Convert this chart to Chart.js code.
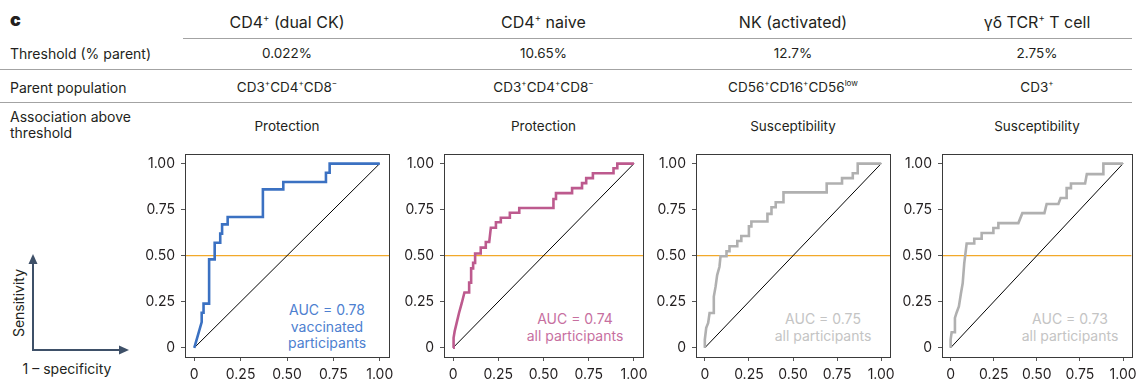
<!DOCTYPE html>
<html>
<head>
<meta charset="utf-8">
<script src="https://cdn.jsdelivr.net/npm/chart.js@4.4.1/dist/chart.umd.min.js"></script>
<style>
  body { margin: 0; width: 1142px; height: 381px; overflow: hidden; background: #fff;
         font-family: Inter, "Noto Sans", sans-serif; color: #231f20; position: relative; }
  .t { position: absolute; white-space: nowrap; }
  .c { transform: translate(-50%, -50%); text-align: center; }
  .l { transform: translateY(-50%); }
  sup { font-size: 0.6em; line-height: 0; position: relative; top: -0.1em; }
  .rule { position: absolute; height: 1px; background: #a3a3a3; }
  canvas { position: absolute; }
</style>
</head>
<body>

<div class="t l" style="left:10px; top:19px; font-size:18px; font-weight:900;">c</div>

<svg style="position:absolute; left:0; top:240px;" width="140" height="141">
  <g stroke="#3e5068" stroke-width="2" fill="#3e5068">
    <line x1="33" y1="22" x2="33" y2="111" />
    <line x1="32" y1="110" x2="120" y2="110" />
    <polygon points="33,14 28.5,24 37.5,24" stroke="none" />
    <polygon points="129,110 119,105.5 119,114.5" stroke="none" />
  </g>
</svg>
<div class="t c" style="left:18px; top:303px; font-size:14px; transform:translate(-50%,-50%) rotate(-90deg);">Sensitivity</div>
<div class="t c" style="left:67px; top:368px; font-size:14px;">1 – specificity</div>

<script>
// table text
const colTitles = ['CD4<sup>+</sup> (dual CK)', 'CD4<sup>+</sup> naive', 'NK (activated)', 'γδ TCR<sup>+</sup> T cell'];
const thresholds = ['0.022%', '10.65%', '12.7%', '2.75%'];
const parents = ['CD3<sup>+</sup>CD4<sup>+</sup>CD8<sup>−</sup>', 'CD3<sup>+</sup>CD4<sup>+</sup>CD8<sup>−</sup>',
                 'CD56<sup>+</sup>CD16<sup>+</sup>CD56<sup>low</sup>', 'CD3<sup>+</sup>'];
const associations = ['Protection', 'Protection', 'Susceptibility', 'Susceptibility'];
const rowLabels = ['Threshold (% parent)', 'Parent population', 'Association above<br>threshold'];

// ROC curves (1 - specificity, sensitivity)
const dualX = [0, 0.04, 0.04, 0.05, 0.05, 0.08, 0.08, 0.11, 0.11, 0.14, 0.14, 0.15, 0.15, 0.18, 0.18, 0.37, 0.37, 0.48, 0.48, 0.71, 0.71, 0.73, 0.73, 1];
const dualY = [0, 0.14, 0.19, 0.19, 0.24, 0.24, 0.48, 0.48, 0.57, 0.57, 0.62, 0.62, 0.67, 0.67, 0.71, 0.71, 0.86, 0.86, 0.90, 0.90, 0.95, 0.95, 1, 1];

const naiveX = [0, 0.003, 0.009, 0.02, 0.033, 0.048, 0.063, 0.089, 0.089, 0.1, 0.1, 0.111, 0.111, 0.122, 0.122, 0.153, 0.153, 0.181, 0.181, 0.2, 0.209, 0.237, 0.237, 0.264, 0.264, 0.314, 0.314, 0.366, 0.366, 0.555, 0.555, 0.569, 0.569, 0.658, 0.658, 0.713, 0.713, 0.736, 0.736, 0.773, 0.773, 0.887, 0.887, 0.908, 0.908, 1];
const naiveY = [0, 0.054, 0.09, 0.135, 0.189, 0.242, 0.3, 0.3, 0.354, 0.354, 0.431, 0.431, 0.461, 0.461, 0.512, 0.512, 0.544, 0.544, 0.574, 0.574, 0.652, 0.652, 0.682, 0.682, 0.706, 0.706, 0.733, 0.733, 0.759, 0.759, 0.808, 0.808, 0.84, 0.84, 0.867, 0.867, 0.894, 0.894, 0.921, 0.921, 0.948, 0.948, 0.975, 0.975, 1, 1];

const nkX = [0, 0, 0.008, 0.019, 0.027, 0.051, 0.051, 0.061, 0.07, 0.083, 0.089, 0.123, 0.123, 0.14, 0.14, 0.184, 0.184, 0.207, 0.207, 0.25, 0.25, 0.264, 0.264, 0.355, 0.355, 0.378, 0.378, 0.402, 0.402, 0.446, 0.446, 0.691, 0.691, 0.778, 0.778, 0.839, 0.839, 0.867, 0.867, 1];
const nkY = [0, 0.045, 0.108, 0.135, 0.189, 0.189, 0.278, 0.332, 0.395, 0.44, 0.497, 0.497, 0.524, 0.524, 0.551, 0.551, 0.58, 0.58, 0.607, 0.607, 0.659, 0.659, 0.686, 0.686, 0.727, 0.727, 0.763, 0.763, 0.79, 0.79, 0.844, 0.844, 0.892, 0.892, 0.921, 0.921, 0.948, 0.948, 1, 1];

const gdX = [0, 0, 0.006, 0.025, 0.025, 0.035, 0.048, 0.06, 0.07, 0.079, 0.093, 0.137, 0.137, 0.18, 0.18, 0.248, 0.248, 0.277, 0.277, 0.393, 0.416, 0.544, 0.557, 0.625, 0.638, 0.673, 0.673, 0.698, 0.698, 0.78, 0.79, 0.886, 0.886, 1];
const gdY = [0, 0.045, 0.084, 0.084, 0.162, 0.192, 0.224, 0.296, 0.35, 0.458, 0.566, 0.566, 0.592, 0.592, 0.623, 0.623, 0.65, 0.65, 0.677, 0.677, 0.731, 0.731, 0.781, 0.781, 0.813, 0.813, 0.867, 0.867, 0.892, 0.892, 0.943, 0.943, 1, 1];

const aucValues = ['0.78', '0.74', '0.75', '0.73'];
const aucGroups = ['vaccinated<br>participants', 'all participants', 'all participants', 'all participants'];

const tickValues = [0, 0.25, 0.5, 0.75, 1];
const tickLabels = ['0', '0.25', '0.50', '0.75', '1.00'];
const thresholdLevel = 0.5;

// layout (pixels)
const frames = [
  { left: 185, right: 389 },
  { left: 444, right: 643 },
  { left: 696, right: 890 },
  { left: 942, right: 1132 }
];
const frameTop = 153, frameBottom = 357;
const aucCenters = [327, 575, 823, 1070];
const curveColors = ['#3b71c2', '#bd5a8e', '#b0b0b0', '#b0b0b0'];
const aucColors = ['#4d80d0', '#c76f9f', '#c4c4c4', '#c4c4c4'];

function addText(html, x, y, cls, size) {
  const d = document.createElement('div');
  d.className = 't ' + cls;
  d.style.left = x + 'px';
  d.style.top = y + 'px';
  d.style.fontSize = size + 'px';
  d.innerHTML = html;
  document.body.appendChild(d);
  return d;
}

function addRule(x1, x2, y) {
  const r = document.createElement('div');
  r.className = 'rule';
  r.style.left = x1 + 'px';
  r.style.width = (x2 - x1) + 'px';
  r.style.top = y + 'px';
  document.body.appendChild(r);
}

addRule(183, 1132, 38);
addRule(0, 1132, 69);
addRule(0, 1132, 102);

addText(rowLabels[0], 10, 53, 'l', 14);
addText(rowLabels[1], 10, 87, 'l', 14);
addText(rowLabels[2], 10, 125, 'l', 14).style.lineHeight = '16px';

frames.forEach((f, i) => {
  const cx = (f.left + f.right) / 2;
  addText(colTitles[i], cx, 22, 'c', 16);
  addText(thresholds[i], cx, 53, 'c', 13.5);
  addText(parents[i], cx, 87, 'c', 13.5);
  addText(associations[i], cx, 126, 'c', 13.5);
  const a = addText('AUC = ' + aucValues[i] + '<br>' + aucGroups[i], aucCenters[i], 327, 'c', 14);
  a.style.color = aucColors[i];
  a.style.lineHeight = '16.5px';
});

/*******************************************************************************/
// Graficos

const frameBorder = {
  id: 'frameBorder',
  afterDraw(chart) {
    const a = chart.chartArea;
    const ctx = chart.ctx;
    ctx.save();
    ctx.strokeStyle = '#3a3a3a';
    ctx.lineWidth = 1;
    ctx.strokeRect(Math.round(a.left) + 0.5, Math.round(a.top) + 0.5,
                   Math.round(a.right - a.left), Math.round(a.bottom - a.top));
    ctx.restore();
  }
};

function crearPanel(i, xs, ys) {
  const f = frames[i];
  const padRight = i === 3 ? 10 : 20;
  const canvas = document.createElement('canvas');
  canvas.width = (f.right - f.left) + 50 + padRight;
  canvas.height = 381 - 140;
  canvas.style.left = (f.left - 50) + 'px';
  canvas.style.top = '140px';
  document.body.appendChild(canvas);

  const axisStyle = {
    min: -0.05,
    max: 1.05,
    border: { display: false },
    grid: { drawOnChartArea: false, drawTicks: true, tickLength: 4, color: '#555' },
    ticks: {
      font: { family: 'Inter', size: 14 },
      color: '#231f20',
      callback: (v) => tickLabels[tickValues.indexOf(v)]
    },
    afterBuildTicks: (scale) => { scale.ticks = tickValues.map(v => ({ value: v })); }
  };

  new Chart(canvas, {
    type: 'scatter',
    data: {
      datasets: [
        {
          data: xs.map((x, k) => ({ x: x, y: ys[k] })),
          showLine: true, borderColor: curveColors[i], borderWidth: 2.6,
          pointRadius: 0, order: 0
        },
        {
          data: [{ x: 0, y: 0 }, { x: 1, y: 1 }],
          showLine: true, borderColor: '#000', borderWidth: 1, pointRadius: 0, order: 1
        },
        {
          data: [{ x: -0.05, y: thresholdLevel }, { x: 1.05, y: thresholdLevel }],
          showLine: true, borderColor: '#f2a92a', borderWidth: 1.3, pointRadius: 0, order: 2
        }
      ]
    },
    options: {
      responsive: false,
      animation: false,
      layout: { padding: { top: frameTop - 140, right: padRight, left: 0, bottom: 0 } },
      plugins: { legend: { display: false }, tooltip: { enabled: false } },
      scales: {
        x: Object.assign({}, axisStyle, {
          ticks: Object.assign({}, axisStyle.ticks, { padding: 5, maxRotation: 0 }),
          afterFit: (scale) => { scale.height = 381 - frameBottom; }
        }),
        y: Object.assign({}, axisStyle, {
          ticks: Object.assign({}, axisStyle.ticks, { padding: 6 }),
          afterFit: (scale) => { scale.width = 50; }
        })
      }
    },
    plugins: [frameBorder]
  });
}

crearPanel(0, dualX, dualY);
crearPanel(1, naiveX, naiveY);
crearPanel(2, nkX, nkY);
crearPanel(3, gdX, gdY);
</script>
</body>
</html>
